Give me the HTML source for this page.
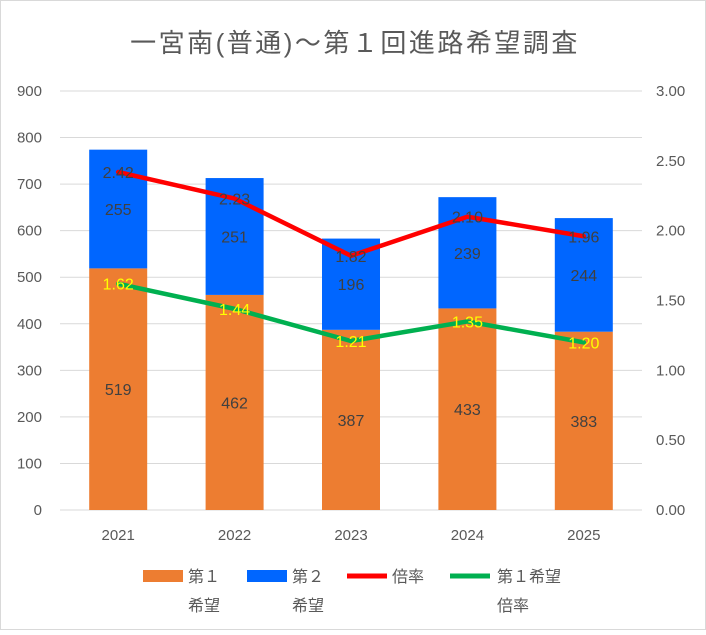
<!DOCTYPE html>
<html><head><meta charset="utf-8"><style>
body{margin:0;background:#fff;}
svg text{font-family:"Liberation Sans","Noto Sans CJK JP",sans-serif;}
</style></head><body>
<svg width="706" height="630" xmlns="http://www.w3.org/2000/svg">
<rect x="0.5" y="0.5" width="705" height="629" fill="#fff" stroke="#d9d9d9"/>
<text x="355" y="52" text-anchor="middle" font-size="26" letter-spacing="2.5" fill="#595959">一宮南(普通)～第１回進路希望調査</text>
<g id="grid"></g><g id="bars"></g><g id="lines"></g><g id="labels"></g>
<g font-size="16" fill="#595959">
<rect x="143" y="570" width="40" height="12" fill="#ED7D31"/>
<text x="188" y="582">第１</text><text x="188" y="611">希望</text>
<rect x="247" y="570" width="40" height="12" fill="#0066FF"/>
<text x="292" y="582">第２</text><text x="292" y="611">希望</text>
<line x1="347" y1="576" x2="387" y2="576" stroke="#FF0000" stroke-width="5"/>
<text x="392" y="582">倍率</text>
<line x1="450" y1="576" x2="490" y2="576" stroke="#00B050" stroke-width="5"/>
<text x="497" y="582">第１希望</text><text x="497" y="611">倍率</text>
</g>
</svg>
<script>
const categories=["2021","2022","2023","2024","2025"];
const first=[519,462,387,433,383];
const second=[255,251,196,239,244];
const rate=[2.42,2.23,1.82,2.10,1.96];
const firstRate=[1.62,1.44,1.21,1.35,1.20];
const leftTicks=[0,100,200,300,400,500,600,700,800,900];
const rightTicks=["0.00","0.50","1.00","1.50","2.00","2.50","3.00"];
const NS="http://www.w3.org/2000/svg";
const x0=60,x1=642,yb=510,yt=91;
const yL=v=>yb-v/900*(yb-yt);
const yR=v=>yb-v/3*(yb-yt);
const xC=i=>x0+(x1-x0)/categories.length*(i+0.5);
function mk(p,tag,a,txt){const e=document.createElementNS(NS,tag);for(const k in a)e.setAttribute(k,a[k]);if(txt!=null)e.textContent=txt;document.getElementById(p).appendChild(e);return e;}
leftTicks.forEach(t=>{
 const l=mk("grid","line",{x1:x0,x2:x1,y1:yL(t),y2:yL(t),stroke:"#d9d9d9","stroke-width":1});
 
 
 const tx=mk("grid","text",{x:42,y:yL(t)+5,"text-anchor":"end","font-size":15,fill:"#595959"},t);
 
 
});
rightTicks.forEach(t=>{
 const tx=mk("grid","text",{x:656,y:yR(+t)+5,"font-size":15,fill:"#595959"},t);
 
 
});
categories.forEach((c,i)=>{
 const tx=mk("grid","text",{x:xC(i),y:540,"text-anchor":"middle","font-size":15,fill:"#595959"},c);
 
 
 const w=58,cx=xC(i);
 const b1=mk("bars","rect",{x:cx-w/2,y:yL(first[i]),width:w,height:yb-yL(first[i]),fill:"#ED7D31"});
 
 
 const b2=mk("bars","rect",{x:cx-w/2,y:yL(first[i]+second[i]),width:w,height:yL(first[i])-yL(first[i]+second[i]),fill:"#0066FF"});
 
 
 const l1=mk("labels","text",{x:cx,y:(yb+yL(first[i]))/2+6,"text-anchor":"middle","font-size":16,fill:"#404040"},first[i]);
 
 
 const l2=mk("labels","text",{x:cx,y:(yL(first[i])+yL(first[i]+second[i]))/2+6,"text-anchor":"middle","font-size":16,fill:"#404040"},second[i]);
 
 
 const l3=mk("labels","text",{x:cx,y:yR(rate[i])+6,"text-anchor":"middle","font-size":16,fill:"#404040"},rate[i].toFixed(2));
 
 
 const l4=mk("labels","text",{x:cx,y:yR(firstRate[i])+6,"text-anchor":"middle","font-size":16,fill:"#FFFF00"},firstRate[i].toFixed(2));
 
 
});
const p1=mk("lines","polyline",{points:rate.map((v,i)=>xC(i)+","+yR(v)).join(" "),fill:"none",stroke:"#FF0000","stroke-width":4.5,"stroke-linejoin":"round","stroke-linecap":"round"});


const p2=mk("lines","polyline",{points:firstRate.map((v,i)=>xC(i)+","+yR(v)).join(" "),fill:"none",stroke:"#00B050","stroke-width":4.5,"stroke-linejoin":"round","stroke-linecap":"round"});


</script>
</body></html>
